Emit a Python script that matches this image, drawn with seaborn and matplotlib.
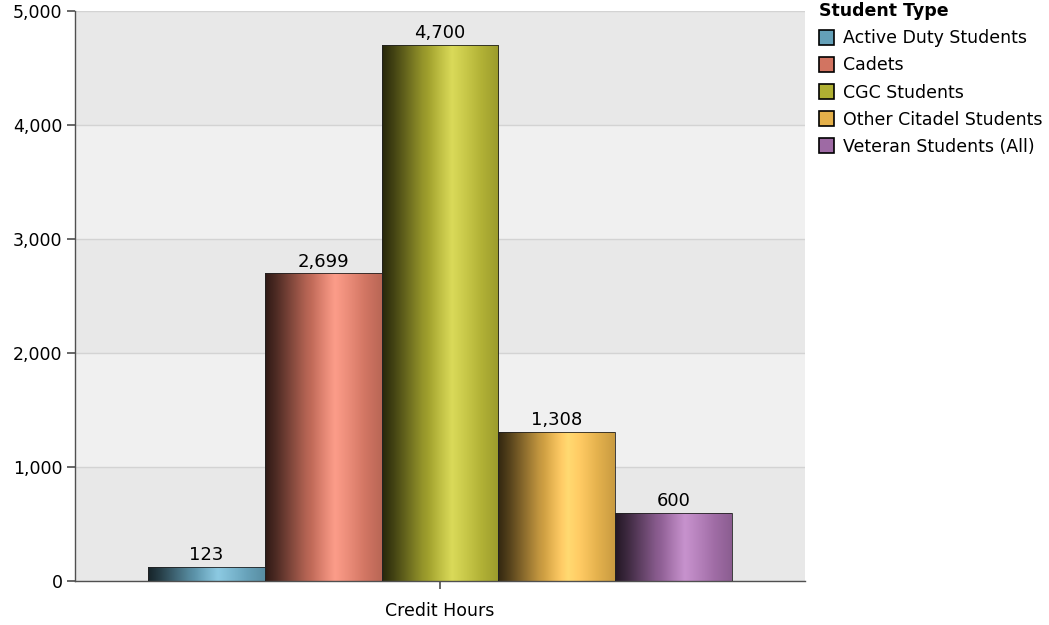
import numpy as np
import pandas as pd
import seaborn as sns
import matplotlib.pyplot as plt
from matplotlib.colors import to_rgb
from matplotlib.patches import Patch

sns.set_theme(style="white")
plt.rcParams['font.family'] = ['DejaVu Sans']
plt.rcParams['text.color'] = 'black'
plt.rcParams['xtick.color'] = 'black'
plt.rcParams['ytick.color'] = 'black'

# data
metric = ["Credit Hours"] * 5
student_types = ["Active Duty Students", "Cadets", "CGC Students",
                 "Other Citadel Students", "Veteran Students (All)"]
hours = [123, 2699, 4700, 1308, 600]
colors = ["#64a0b8", "#d27461", "#b0b032", "#e4b04a", "#9e6aa4"]

df = pd.DataFrame({"metric": metric, "type": student_types, "hours": hours})

fig = plt.figure(figsize=(10.49, 6.25), dpi=100)
ax = fig.add_axes([75 / 1049, 44 / 625, 730 / 1049, 570 / 625])

# alternating bands
for i, lo in enumerate(range(0, 5000, 1000)):
    ax.axhspan(lo, lo + 1000, color="#e8e8e8" if i % 2 == 0 else "#f0f0f0", zorder=0, lw=0)

sns.barplot(data=df, x="metric", y="hours", hue="type", palette=colors,
            hue_order=student_types, ax=ax, legend=False, zorder=2)


def shade(c, t):
    c = np.array(to_rgb(c))
    # dark left edge, bright highlight at ~60%, a bit darker on the right
    k = np.interp(t, [0.0, 0.1, 0.35, 0.6, 1.0], [0.22, 0.38, 0.85, 1.2, 0.88])
    out = np.outer(k, c)
    hl = np.interp(t, [0.0, 0.4, 0.6, 0.85, 1.0], [0, 0, 0.15, 0.02, 0])
    out = out + (1 - np.clip(out, 0, 1)) * hl[:, None]
    return np.clip(out, 0, 1)


t = np.linspace(0, 1, 200)
bars = [p for cont in ax.containers for p in cont]
for p, c in zip(bars, colors):
    x0, y0 = p.get_x(), p.get_y()
    w, h = p.get_width(), p.get_height()
    img = shade(c, t)[None, :, :]
    im = ax.imshow(img, extent=[x0, x0 + w, y0, y0 + h], aspect="auto",
                   origin="lower", zorder=2.5, interpolation="bilinear")
    im.set_clip_path(p)
    p.set_facecolor("none")
    p.set_edgecolor("#222222")
    p.set_linewidth(0.6)
    p.set_zorder(3)

for cont in ax.containers:
    ax.bar_label(cont, labels=[f"{v:,.0f}" for v in cont.datavalues],
                 padding=2, fontsize=13, color="black")

ax.set_xlim(-0.5, 0.5)
ax.set_ylim(0, 5000)
ax.set_yticks(range(0, 5001, 1000))
ax.set_yticklabels([f"{v:,}" for v in range(0, 5001, 1000)], fontsize=12.5)
ax.tick_params(axis="x", labelsize=12.5, length=6, color="#555555", bottom=True, pad=9)
ax.tick_params(axis="y", length=6, color="#555555", left=True, pad=3)
ax.yaxis.grid(True, color="#d3d3d3", lw=1, zorder=1)
ax.set_axisbelow(True)
ax.set_xlabel("")
ax.set_ylabel("")
for s in ["top", "right"]:
    ax.spines[s].set_visible(False)
for s in ["left", "bottom"]:
    ax.spines[s].set_color("#505050")
    ax.spines[s].set_linewidth(1)

handles = [Patch(facecolor=c, edgecolor="black", lw=1.2) for c in colors]
leg = fig.legend(handles, student_types, title="Student Type", loc="upper left",
                 bbox_to_anchor=(810 / 1049, 1.01), frameon=False, fontsize=12.5,
                 handlelength=0.9, handleheight=0.9, handletextpad=0.5,
                 labelspacing=0.52, borderpad=0, alignment="left")
leg.get_title().set_fontweight("bold")
leg.get_title().set_fontsize(12.5)

fig.savefig("out.png", dpi=100)
